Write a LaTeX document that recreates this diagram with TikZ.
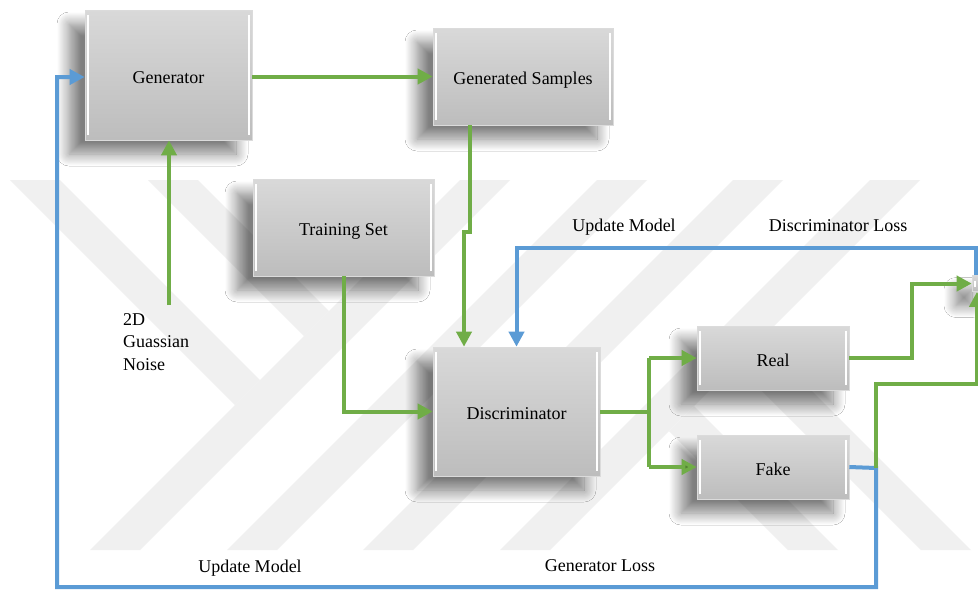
\documentclass[tikz,border=0pt]{standalone}
\usepackage{fontspec}
\setmainfont{Liberation Serif}
\usetikzlibrary{arrows.meta,shadows.blur,calc}
\definecolor{gcol}{HTML}{70AD47}
\definecolor{gdark}{HTML}{548235}
\definecolor{bcol}{HTML}{5B9BD5}
\definecolor{wm}{HTML}{F0F0F0}
\tikzset{
  box/.style={draw=black!14, line width=0.6pt, top color=black!15, bottom color=black!26,
    blur shadow={shadow xshift=-16pt, shadow yshift=-14pt, shadow blur radius=12pt,
      shadow blur steps=16, shadow opacity=50, shadow blur extra rounding=0pt},
    font=\fontsize{18}{21}\selectfont, inner sep=0pt, text height=16pt, text depth=0pt,
    path picture={
      \draw[white, line width=2.2pt]
        ([xshift=3pt,yshift=-5pt]path picture bounding box.north west) --
        ([xshift=3pt,yshift=5pt]path picture bounding box.south west);
      \draw[white, line width=2.2pt]
        ([xshift=-3pt,yshift=-5pt]path picture bounding box.north east) --
        ([xshift=-3pt,yshift=5pt]path picture bounding box.south east);
    }},
  gline/.style={draw=gcol, line width=4pt},
  garr/.style={gline, -{Triangle[length=15pt,width=15pt]}},
  barr/.style={draw=bcol, line width=4pt, -{Triangle[length=15pt,width=15pt]}},
  lbl/.style={font=\fontsize{18}{21}\selectfont, inner sep=0pt}
}
\begin{document}
\begin{tikzpicture}[x=1pt,y=-1pt]
\useasboundingbox[fill=white] (0,0) rectangle (978,590);
% watermark stripes
\foreach \b in {90,227,363,500}{
  \fill[wm] (\b,550) -- (\b+50,550) -- (\b+420,180) -- (\b+370,180) -- cycle;
}
\fill[wm] (10,180) -- (60,180) -- (260,380) -- (235,405) -- cycle;
\fill[wm] (148,180) -- (198,180) -- (329,311) -- (304,336) -- cycle;
\fill[wm] (694,406) -- (838,550) -- (788,550) -- (669,431) -- cycle;
\fill[wm] (760.5,339.5) -- (971,550) -- (921,550) -- (735.5,364.5) -- cycle;

% boxes
\node[box, minimum width=167pt, minimum height=130pt] (gen) at (168.5,75) {Generator};
\node[box, minimum width=180pt, minimum height=97pt] (gs) at (523,76.5) {Generated Samples};
\node[box, minimum width=181pt, minimum height=97pt] (ts) at (343.5,227.5) {Training Set};
\node[box, minimum width=167pt, minimum height=129pt] (disc) at (516.5,411.5) {Discriminator};
\node[box, minimum width=152pt, minimum height=64pt] (real) at (773,358) {Real};
\node[box, minimum width=152pt, minimum height=64pt] (fake) at (773,467) {Fake};
\node[box, minimum width=16pt, minimum height=13pt] (sink) at (980,283.5) {};

% coordinates
\coordinate (nz) at (169,305);
\coordinate (j1) at (470,232);
\coordinate (j2) at (464,232);
\coordinate (br) at (649,412);
\coordinate (rt) at (912,358);
\coordinate (ut) at (516.5,248);
\coordinate (fj) at (876,468);
\coordinate (gturn) at (876,384);
\coordinate (bl) at (57,587);

% green connectors
\draw[garr] (gen.east |- gs.west) -- (gs.west);
\draw[garr] (nz) -- (nz |- gen.south);
\draw[garr] (gs.south -| j1) -- (j1) -- (j2) -- (j2 |- disc.north);
\draw[garr] (ts.south) |- (disc.west);
\draw[gline] (disc.east |- br) -- (br);
\draw[gline] (br |- real.west) -- (br |- fake.west);
\draw[garr] (br |- real.west) -- (real.west);
\draw[gline, -{Triangle[length=15pt,width=15pt,fill=gdark]}] (br |- fake.west) -- (fake.west);
\draw[garr] (real.east) -- (rt) |- (sink.west);

% blue connectors
\draw[barr] ([xshift=-4pt]sink.north) |- (ut) -- (disc.north);
\draw[barr] (fake.east) -- (fj) -- (fj |- bl) -- (bl) |- ([yshift=-2pt]gen.west);
\draw[garr] (fj) -- (gturn) -| ([xshift=-3pt]sink.south);

% labels
\node[lbl, align=left, anchor=north west, font=\fontsize{18}{22.5}\selectfont] (noise) at (123,313) {2D\\Guassian\\Noise};
\node[lbl] (um1) at (624,227) {Update Model};
\node[lbl] (dl) at (838,226) {Discriminator Loss};
\node[lbl] (um2) at (250,568) {Update Model};
\node[lbl] (gl) at (600,566) {Generator Loss};
\end{tikzpicture}
\end{document}
